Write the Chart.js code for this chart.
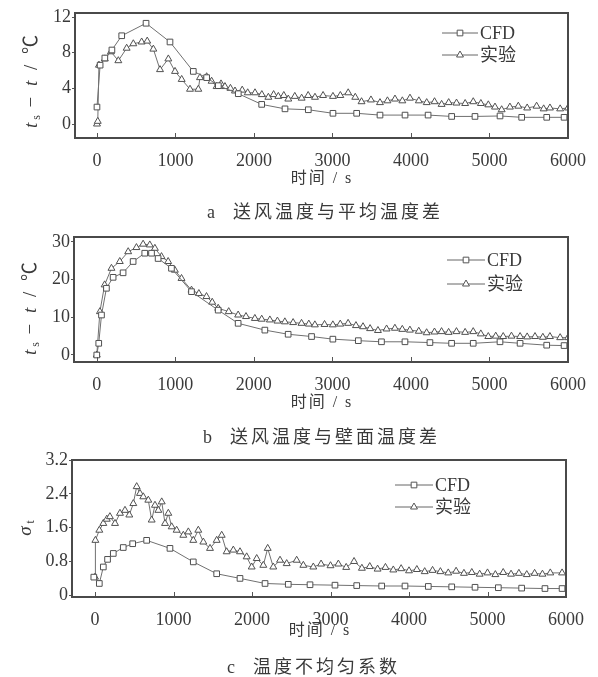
<!DOCTYPE html>
<html><head><meta charset="utf-8">
<script src="https://cdn.jsdelivr.net/npm/chart.js@4.4.0/dist/chart.umd.min.js"></script>
<style>
html,body{margin:0;padding:0;background:#fff;}
body{width:598px;height:677px;position:relative;overflow:hidden;font-family:"Liberation Serif","Noto Sans CJK SC",serif;color:#3a3a3a;}
canvas{position:absolute;left:0;}
.t{position:absolute;white-space:nowrap;transform:translate(-50%,-50%);font-size:16px;letter-spacing:2px;}
.cap{position:absolute;white-space:nowrap;transform:translateY(-50%);font-size:18px;letter-spacing:3px;}
.yt{position:absolute;white-space:nowrap;transform:translate(-50%,-50%) rotate(-90deg);font-size:19px;letter-spacing:3px;}
sub{font-size:12px;vertical-align:-3px;letter-spacing:0;}
</style></head><body>
<canvas id="ca" width="598" height="190" style="top:0px"></canvas>
<canvas id="cb" width="598" height="190" style="top:225px"></canvas>
<canvas id="cc" width="598" height="190" style="top:445px"></canvas>

<div class="yt" style="left:29px;top:80px"><i>t</i><sub>s</sub> − <i>t</i> / ℃</div>
<div class="yt" style="left:28px;top:307px"><i>t</i><sub>s</sub> − <i>t</i> / ℃</div>
<div class="yt" style="left:26px;top:528px"><i>σ</i><sub>t</sub></div>

<div class="t" style="left:322px;top:176px">时间 / s</div>
<div class="t" style="left:322px;top:400px">时间 / s</div>
<div class="t" style="left:320px;top:628px">时间 / s</div>

<div class="cap" style="left:207px;top:210px">a&nbsp;&nbsp;送风温度与平均温度差</div>
<div class="cap" style="left:203px;top:435px">b&nbsp;&nbsp;送风温度与壁面温度差</div>
<div class="cap" style="left:227px;top:665px">c&nbsp;&nbsp;温度不均匀系数</div>

<script>
// ---- data ----
const xTicks = [0,1000,2000,3000,4000,5000,6000];
const yTicksA = [0,4,8,12];
const yTicksB = [0,10,20,30];
const yTicksC = [0,0.8,1.6,2.4,3.2];
const seriesNames = ['CFD','实验'];

const aCfdT = [0,40,100,190,315,625,930,1227,1397,1546,1800,2098,2395,2692,3006,3308,3605,3924,4218,4518,4815,5134,5410,5729,5950];
const aCfdV = [1.9,6.6,7.4,8.3,9.9,11.3,9.2,5.9,5.2,4.3,3.4,2.2,1.7,1.6,1.2,1.2,1.0,1.0,1.0,0.85,0.85,0.9,0.75,0.75,0.75];
const aExpT = [0,10,25,100,178,272,378,463,569,640,718,803,909,994,1079,1185,1291,1312,1397,1460,1524,1580,1630,1700,1758,1850,1920,2013,2100,2183,2250,2310,2380,2437,2520,2607,2690,2777,2880,3006,3100,3200,3290,3370,3490,3605,3700,3796,3890,3987,4100,4200,4300,4390,4480,4580,4690,4793,4890,4985,5070,5155,5260,5367,5480,5600,5690,5770,5900,6000];
const aExpV = [0,0.3,6.6,7.3,8.1,7.1,8.5,9.0,9.2,9.3,8.4,6.1,7.3,5.9,5.0,3.9,3.9,5.2,5.3,4.8,4.2,4.5,4.2,4.0,3.7,3.8,3.5,3.5,3.3,3.0,3.3,3.1,3.2,2.8,3.1,2.9,3.2,3.0,3.2,3.1,3.2,3.5,3.0,2.5,2.7,2.4,2.6,2.8,2.6,2.9,2.6,2.4,2.5,2.2,2.4,2.35,2.3,2.5,2.3,2.15,1.9,1.6,1.9,2.0,1.8,2.0,1.7,1.8,1.7,1.8];

const bCfdT = [0,25,60,123,208,335,463,611,697,781,951,1206,1546,1800,2140,2437,2735,3006,3330,3625,3924,4242,4518,4793,5134,5390,5729,5950];
const bCfdV = [0,3.1,10.6,17.7,20.6,21.8,24.8,27.0,27.0,25.6,23.0,16.8,11.9,8.4,6.6,5.5,4.9,4.2,3.8,3.5,3.5,3.3,3.1,3.1,3.5,3.1,2.6,2.5];
const bExpT = [0,40,100,187,293,400,505,590,675,740,824,909,994,1079,1206,1300,1397,1470,1546,1680,1800,1900,2013,2100,2204,2300,2395,2500,2607,2700,2777,2900,3006,3100,3200,3300,3390,3480,3580,3690,3796,3890,3987,4100,4200,4300,4390,4480,4580,4690,4793,4890,4985,5080,5175,5280,5390,5480,5580,5680,5770,5900,6000];
const bExpV = [0,11.5,18.6,23,24.8,27.4,28.5,29.4,29.2,28.3,26.1,24.8,22.5,20.3,17.2,16.3,15.5,14.0,12.4,11.5,10.6,10.2,9.7,9.5,9.3,9.0,8.8,8.6,8.4,8.2,8.0,8.1,8.0,8.2,8.4,7.8,7.5,7.0,6.5,6.9,7.1,6.8,6.6,6.3,5.9,6.1,6.2,6.0,6.2,6.0,6.2,5.6,4.9,5.0,4.9,5.0,4.9,4.8,4.9,4.7,4.9,4.6,4.6];

const cCfdT = [-15,55,106,160,233,360,480,658,955,1252,1550,1847,2166,2462,2739,3057,3334,3652,3949,4246,4544,4841,5138,5435,5732,5950];
const cCfdV = [0.43,0.28,0.67,0.85,0.99,1.13,1.22,1.30,1.11,0.79,0.51,0.40,0.28,0.26,0.25,0.24,0.23,0.22,0.22,0.21,0.20,0.19,0.18,0.17,0.16,0.16];
const cExpT = [0,5,55,106,150,190,255,318,382,437,488,531,573,615,679,722,764,807,850,892,934,977,1040,1125,1189,1252,1316,1380,1465,1550,1614,1677,1762,1847,1932,1996,2060,2144,2200,2271,2357,2442,2569,2654,2781,2880,3000,3100,3200,3300,3400,3500,3600,3700,3800,3900,4000,4100,4200,4300,4400,4500,4600,4700,4800,4900,5000,5100,5200,5300,5400,5500,5600,5700,5800,5950];
const cExpV = [0.43,1.30,1.54,1.70,1.80,1.86,1.70,1.94,2.01,1.90,2.17,2.57,2.41,2.33,2.25,1.78,2.13,2.01,2.21,1.70,1.94,1.62,1.54,1.42,1.50,1.30,1.54,1.26,1.11,1.30,1.42,1.03,1.07,1.03,0.91,0.67,0.87,0.71,1.11,0.67,0.83,0.75,0.83,0.71,0.67,0.74,0.70,0.74,0.66,0.80,0.64,0.68,0.62,0.66,0.60,0.63,0.58,0.61,0.56,0.59,0.56,0.53,0.57,0.52,0.54,0.50,0.53,0.49,0.54,0.50,0.52,0.49,0.52,0.50,0.53,0.53];

// ---- drawing ----
const TEXT = '#3a3a3a';
const FONT = {family:'"Liberation Serif","Noto Sans CJK SC",serif', size:18};

function drawMarker(ctx, style, x, y, r){
  ctx.beginPath();
  if(style==='rect'){
    const s = Math.SQRT1_2*r;
    ctx.rect(x-s,y-s,2*s,2*s);
  } else {
    let rad = 0; const T = Math.PI*2/3;
    ctx.moveTo(x+Math.sin(rad)*r, y-Math.cos(rad)*r); rad+=T;
    ctx.lineTo(x+Math.sin(rad)*r, y-Math.cos(rad)*r); rad+=T;
    ctx.lineTo(x+Math.sin(rad)*r, y-Math.cos(rad)*r);
    ctx.closePath();
  }
  ctx.fillStyle='#fff'; ctx.fill();
  ctx.strokeStyle='#555'; ctx.lineWidth=1; ctx.stroke();
}

const framePlugin = {
  id:'frame',
  afterDraw(chart, args, opts){
    const {ctx, chartArea:a} = chart;
    ctx.save();
    const xs = chart.scales.x;
    ctx.strokeStyle='#555'; ctx.lineWidth=1;
    xs.ticks.forEach(t=>{
      const px = Math.round(xs.getPixelForValue(t.value))+0.5;
      ctx.beginPath(); ctx.moveTo(px,a.bottom); ctx.lineTo(px,a.bottom-5); ctx.stroke();
    });
    ctx.strokeStyle='#4a4a4a'; ctx.lineWidth=2;
    ctx.strokeRect(a.left, a.top, a.right-a.left, a.bottom-a.top);
    const L = opts.legend;
    chart.data.datasets.forEach((ds,i)=>{
      const y = L.y[i];
      ctx.strokeStyle='#666'; ctx.lineWidth=1;
      ctx.beginPath(); ctx.moveTo(L.x,y); ctx.lineTo(L.x+L.len,y); ctx.stroke();
      drawMarker(ctx, ds.pointStyle, L.x+L.len/2, y, 4);
      ctx.fillStyle=TEXT; ctx.font='18px "Liberation Serif","Noto Sans CJK SC",serif';
      ctx.textBaseline='middle'; ctx.textAlign='left';
      ctx.fillText(ds.label, L.x+L.len+2, y+1);
    });
    ctx.restore();
  }
};

function ds(label, T, V, style){
  return {label, data:T.map((t,i)=>({x:t,y:V[i]})), borderColor:'#707070', borderWidth:1,
    pointStyle:style, pointRadius:4, pointBorderColor:'#505050', pointBackgroundColor:'#fff',
    pointBorderWidth:1, tension:0, fill:false};
}

function makeChart(id, sets, yTicks, cfg){
  return new Chart(document.getElementById(id), {
    type:'line',
    data:{datasets:sets},
    options:{
      responsive:false, animation:false, devicePixelRatio:1,
      layout:{padding:{top:cfg.top, right:598-cfg.right, bottom:0, left:0}},
      plugins:{legend:{display:false}, tooltip:{enabled:false}, frame:{legend:cfg.legend}},
      scales:{
        x:{type:'linear', min:cfg.xmin, max:6000,
           afterBuildTicks:s=>{s.ticks = xTicks.map(v=>({value:v}));},
           afterFit:s=>{s.height = 190 - cfg.bottom;},
           grid:{display:false},
           border:{display:false},
           ticks:{font:FONT, color:TEXT, padding:4, maxRotation:0, autoSkip:false, callback:v=>String(v)}},
        y:{type:'linear', min:cfg.ymin, max:cfg.ymax,
           afterBuildTicks:s=>{s.ticks = yTicks.map(v=>({value:v}));},
           afterFit:s=>{s.width = cfg.left;},
           grid:{drawOnChartArea:false, drawTicks:true, tickLength:3, color:'#555'},
           border:{display:false},
           ticks:{font:FONT, color:TEXT, padding:1, autoSkip:false, callback:v=>String(v)}}
      }
    },
    plugins:[framePlugin]
  });
}

makeChart('ca', [ds(seriesNames[0],aCfdT,aCfdV,'rect'), ds(seriesNames[1],aExpT,aExpV,'triangle')], yTicksA,
  {top:13, bottom:138, left:75, right:568, xmin:-280, ymin:-1.57, ymax:12.45, legend:{x:442,len:36,y:[33,55]}});
makeChart('cb', [ds(seriesNames[0],bCfdT,bCfdV,'rect'), ds(seriesNames[1],bExpT,bExpV,'triangle')], yTicksB,
  {top:12, bottom:137, left:74, right:568, xmin:-290, ymin:-1.86, ymax:31.3, legend:{x:447,len:38,y:[35,59]}});
makeChart('cc', [ds(seriesNames[0],cCfdT,cCfdV,'rect'), ds(seriesNames[1],cExpT,cExpV,'triangle')], yTicksC,
  {top:15, bottom:152, left:72, right:566, xmin:-293, ymin:-0.04, ymax:3.2, legend:{x:395,len:38,y:[40,62]}});
</script>
</body></html>
